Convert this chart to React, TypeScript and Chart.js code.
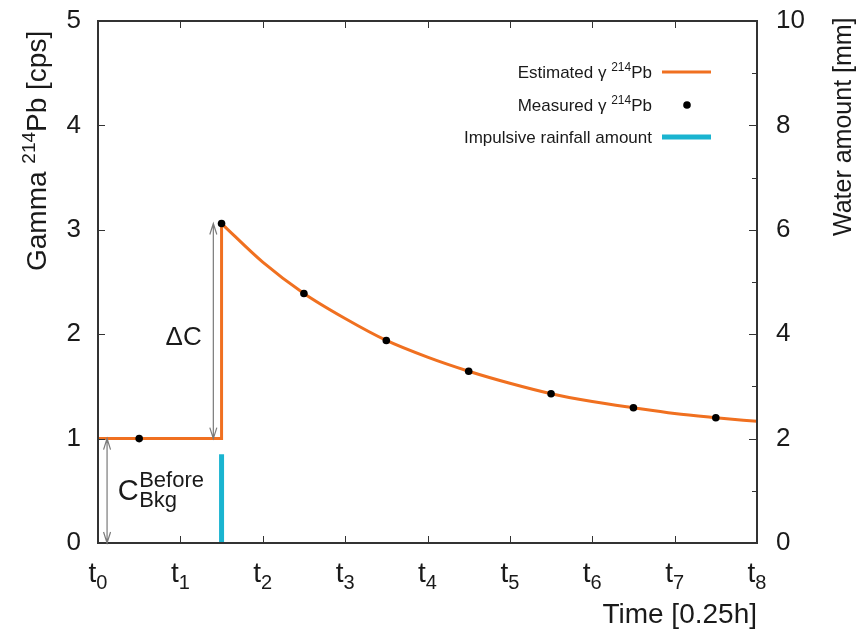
import React, { useEffect, useRef } from "react";
import { Chart, registerables } from "chart.js";

Chart.register(...registerables);

// ---- data ----
const timeTicks = [0, 1, 2, 3, 4, 5, 6, 7, 8];
const timeTickSubs = ["0", "1", "2", "3", "4", "5", "6", "7", "8"];
const measuredT = [0.5, 1.5, 2.5, 3.5, 4.5, 5.5, 6.5, 7.5];
const measuredC = [1.0, 3.06, 2.39, 1.94, 1.645, 1.43, 1.295, 1.2];
const baselineT = [0, 1.5, 1.5];
const baselineC = [1.0, 1.0, 3.06];
const decayT = [1.5, 2.0, 2.5, 3.0, 3.5, 4.0, 4.5, 5.0, 5.5, 6.0, 6.5, 7.0, 7.5, 8.0];
const decayC = [3.06, 2.69, 2.39, 2.15, 1.94, 1.78, 1.645, 1.53, 1.43, 1.355, 1.295, 1.24, 1.2, 1.165];
const rainT = [1.5, 1.5];
const rainMM = [0, 1.7];
const bkgLevel = 1.0;
const peakLevel = 3.06;

const ORANGE = "#f07020";
const CYAN = "#1ab4d0";
const FONT = "'Liberation Sans', Arial, sans-serif";
const TXT = "#1a1a1a";

type Seg = { text: string; size: number; dy?: number };

function segWidth(ctx: CanvasRenderingContext2D, segs: Seg[]) {
  let w = 0;
  for (const s of segs) {
    ctx.font = `${s.size}px ${FONT}`;
    w += ctx.measureText(s.text).width;
  }
  return w;
}

function drawSegs(ctx: CanvasRenderingContext2D, segs: Seg[], x: number, y: number) {
  let cx = x;
  ctx.textAlign = "left";
  ctx.textBaseline = "alphabetic";
  for (const s of segs) {
    ctx.font = `${s.size}px ${FONT}`;
    ctx.fillText(s.text, cx, y + (s.dy || 0));
    cx += ctx.measureText(s.text).width;
  }
}

function drawArrow(ctx: CanvasRenderingContext2D, x: number, y1: number, y2: number) {
  const hl = 11;
  const hw = 3.5;
  ctx.save();
  ctx.strokeStyle = "#7a7a7a";
  ctx.lineWidth = 1.2;
  ctx.beginPath();
  ctx.moveTo(x, y1);
  ctx.lineTo(x, y2);
  ctx.moveTo(x - hw, y1 + hl);
  ctx.lineTo(x, y1);
  ctx.lineTo(x + hw, y1 + hl);
  ctx.moveTo(x - hw, y2 - hl);
  ctx.lineTo(x, y2);
  ctx.lineTo(x + hw, y2 - hl);
  ctx.stroke();
  ctx.restore();
}

const decorPlugin = {
  id: "decor",
  afterDatasetsDraw(chart: any) {
    const ctx: CanvasRenderingContext2D = chart.ctx;
    const { left, right, top, bottom } = chart.chartArea;
    const xs = chart.scales.x;
    const ys = chart.scales.y;
    const y2 = chart.scales.y2;
    ctx.save();

    // inward ticks
    ctx.strokeStyle = "#333";
    ctx.lineWidth = 1;
    ctx.beginPath();
    for (const t of timeTicks) {
      const px = Math.round(xs.getPixelForValue(t)) + 0.5;
      ctx.moveTo(px, bottom);
      ctx.lineTo(px, bottom - 7);
      ctx.moveTo(px, top);
      ctx.lineTo(px, top + 7);
    }
    for (const tk of ys.ticks) {
      const py = Math.round(ys.getPixelForValue(tk.value)) + 0.5;
      ctx.moveTo(left, py);
      ctx.lineTo(left + 7, py);
    }
    for (const tk of y2.ticks) {
      const py = Math.round(y2.getPixelForValue(tk.value)) + 0.5;
      const len = tk.value % 2 === 0 ? 8 : 5;
      ctx.moveTo(right, py);
      ctx.lineTo(right - len, py);
    }
    ctx.stroke();

    // frame
    ctx.strokeStyle = "#333";
    ctx.lineWidth = 2;
    ctx.strokeRect(left, top, right - left, bottom - top);

    // x tick labels t_i
    ctx.fillStyle = TXT;
    timeTicks.forEach((t, i) => {
      const segs: Seg[] = [
        { text: "t", size: 28 },
        { text: timeTickSubs[i], size: 20, dy: 7 },
      ];
      const w = segWidth(ctx, segs);
      const px = xs.getPixelForValue(t);
      drawSegs(ctx, segs, px - w / 2, bottom + 39);
    });

    // x title
    ctx.font = `28px ${FONT}`;
    ctx.textAlign = "right";
    ctx.textBaseline = "alphabetic";
    ctx.fillText("Time [0.25h]", right, bottom + 80);

    // left title (rotated)
    ctx.save();
    ctx.translate(46, 271);
    ctx.rotate(-Math.PI / 2);
    drawSegs(
      ctx,
      [
        { text: "Gamma ", size: 28 },
        { text: "214", size: 19, dy: -11 },
        { text: "Pb [cps]", size: 28 },
      ],
      0,
      0
    );
    ctx.restore();

    // right title (rotated)
    ctx.save();
    ctx.translate(851, 236);
    ctx.rotate(-Math.PI / 2);
    drawSegs(ctx, [{ text: "Water amount [mm]", size: 25 }], 0, 0);
    ctx.restore();

    // legend
    const legX = 652;
    const rows = [
      { segs: [{ text: "Estimated γ ", size: 17 }, { text: "214", size: 12, dy: -7 }, { text: "Pb", size: 17 }], y: 72, kind: "line" },
      { segs: [{ text: "Measured γ ", size: 17 }, { text: "214", size: 12, dy: -7 }, { text: "Pb", size: 17 }], y: 105, kind: "dot" },
      { segs: [{ text: "Impulsive rainfall amount", size: 17 }], y: 137, kind: "rain" },
    ];
    for (const r of rows) {
      const w = segWidth(ctx, r.segs as Seg[]);
      ctx.fillStyle = TXT;
      drawSegs(ctx, r.segs as Seg[], legX - w, r.y + 6);
      if (r.kind === "line" || r.kind === "rain") {
        ctx.strokeStyle = r.kind === "line" ? ORANGE : CYAN;
        ctx.lineWidth = r.kind === "line" ? 3 : 5;
        ctx.beginPath();
        ctx.moveTo(662, r.y);
        ctx.lineTo(711, r.y);
        ctx.stroke();
      } else {
        ctx.fillStyle = "#000";
        ctx.beginPath();
        ctx.arc(687, r.y, 3.8, 0, Math.PI * 2);
        ctx.fill();
      }
    }

    // annotation arrows
    const y0 = ys.getPixelForValue(0);
    const yb = ys.getPixelForValue(bkgLevel);
    const yp = ys.getPixelForValue(peakLevel);
    drawArrow(ctx, xs.getPixelForValue(0.11), yb, y0);
    drawArrow(ctx, xs.getPixelForValue(1.4), yp, yb);

    // annotation labels
    ctx.fillStyle = TXT;
    drawSegs(ctx, [{ text: "ΔC", size: 26 }], xs.getPixelForValue(0.82), ys.getPixelForValue(1.9));
    drawSegs(ctx, [{ text: "C", size: 29 }], xs.getPixelForValue(0.24), ys.getPixelForValue(0.41));
    drawSegs(ctx, [{ text: "Before", size: 22 }], xs.getPixelForValue(0.5), ys.getPixelForValue(0.535));
    drawSegs(ctx, [{ text: "Bkg", size: 22 }], xs.getPixelForValue(0.5), ys.getPixelForValue(0.345));

    ctx.restore();
  },
};

export default function App() {
  const ref = useRef<HTMLCanvasElement | null>(null);
  useEffect(() => {
    if (!ref.current) return;
    const chart = new Chart(ref.current, {
      type: "scatter",
      data: {
        datasets: [
          {
            label: "Measured",
            data: measuredT.map((t, i) => ({ x: t, y: measuredC[i] })),
            showLine: false,
            pointRadius: 3.8,
            pointBackgroundColor: "#000",
            pointBorderWidth: 0,
            yAxisID: "y",
            order: 0,
          },
          {
            label: "Estimated (before)",
            data: baselineT.map((t, i) => ({ x: t, y: baselineC[i] })),
            showLine: true,
            borderColor: ORANGE,
            borderWidth: 3,
            pointRadius: 0,
            tension: 0,
            yAxisID: "y",
            order: 1,
          },
          {
            label: "Estimated",
            data: decayT.map((t, i) => ({ x: t, y: decayC[i] })),
            showLine: true,
            borderColor: ORANGE,
            borderWidth: 3,
            pointRadius: 0,
            cubicInterpolationMode: "monotone",
            yAxisID: "y",
            order: 1,
          },
          {
            label: "Impulsive rainfall amount",
            data: rainT.map((t, i) => ({ x: t, y: rainMM[i] })),
            showLine: true,
            borderColor: CYAN,
            borderWidth: 5,
            borderCapStyle: "butt",
            pointRadius: 0,
            yAxisID: "y2",
            order: 2,
          },
        ] as any,
      },
      options: {
        animation: false,
        responsive: false,
        layout: { padding: { top: 21, left: 0, right: 0, bottom: 0 } },
        plugins: { legend: { display: false }, tooltip: { enabled: false } },
        scales: {
          x: {
            type: "linear",
            min: 0,
            max: 8,
            ticks: { display: false, stepSize: 1 },
            grid: { display: false },
            border: { display: false },
            afterFit: (s: any) => {
              s.height = 89;
              s.paddingLeft = 0;
              s.paddingRight = 0;
            },
          },
          y: {
            type: "linear",
            position: "left",
            min: 0,
            max: 5,
            ticks: { stepSize: 1, padding: 17, color: TXT, font: { size: 26, family: FONT } },
            grid: { display: false, drawTicks: false },
            border: { display: false },
            afterFit: (s: any) => {
              s.width = 98;
              s.paddingTop = 0;
              s.paddingBottom = 0;
            },
          },
          y2: {
            type: "linear",
            position: "right",
            min: 0,
            max: 10,
            ticks: {
              stepSize: 1,
              padding: 19,
              color: TXT,
              font: { size: 26, family: FONT },
              callback: (v: any) => (Number(v) % 2 === 0 ? String(v) : ""),
            },
            grid: { display: false, drawTicks: false },
            border: { display: false },
            afterFit: (s: any) => {
              s.width = 101;
              s.paddingTop = 0;
              s.paddingBottom = 0;
            },
          },
        },
      } as any,
      plugins: [decorPlugin],
    });
    return () => chart.destroy();
  }, []);
  return (
    <div style={{ position: "absolute", left: 0, top: 0, width: 858, height: 632, background: "#fff" }}>
      <canvas ref={ref} width={858} height={632} />
    </div>
  );
}
